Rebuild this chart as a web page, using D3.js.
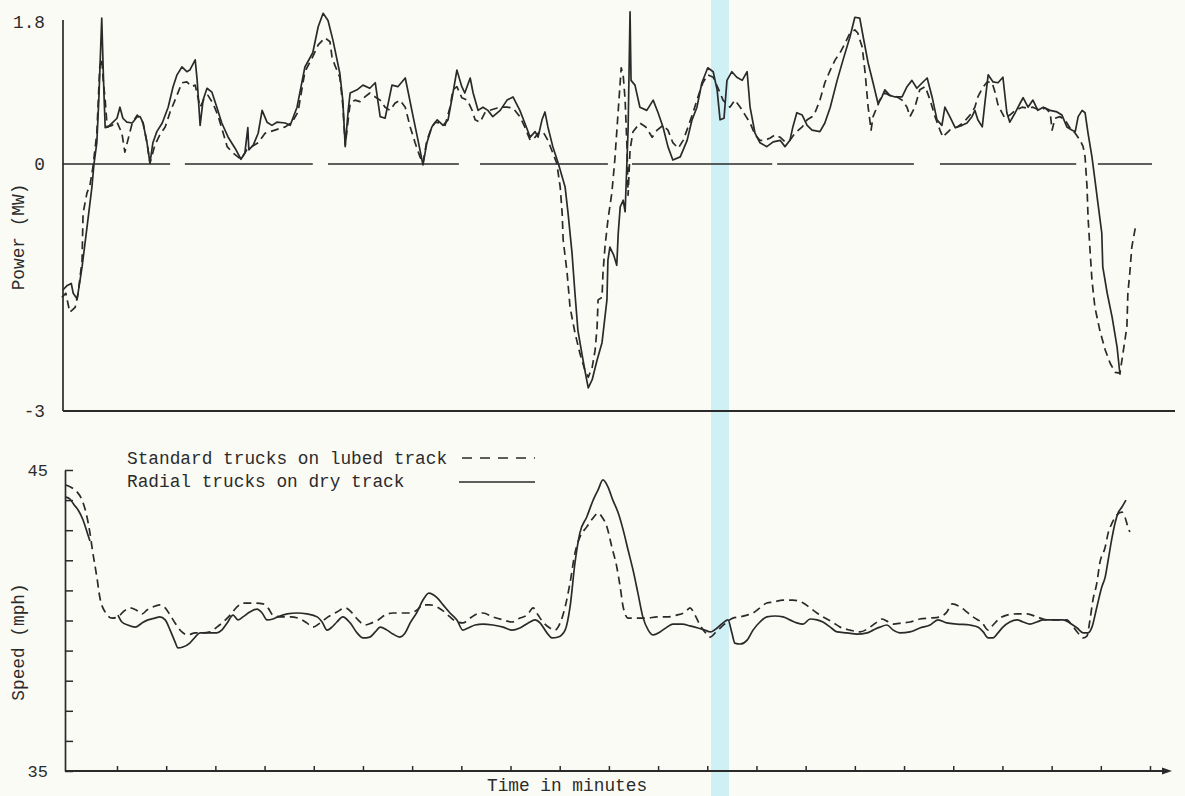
<!DOCTYPE html>
<html>
<head>
<meta charset="utf-8">
<script src="https://cdn.jsdelivr.net/npm/d3@7"></script>
<style>
  html, body { margin: 0; padding: 0; background: #fbfbf6; }
  svg { display: block; }
  text { font-family: "Liberation Mono", "DejaVu Sans Mono", monospace; fill: #2b2b2b; }
</style>
</head>
<body>
<svg id="chart" width="1185" height="796"></svg>
<script>
// ---- Values: [time in minutes, value] ----

// Power (MW), radial trucks on dry track
const powerRadial = [
  [-0.10,-1.53],[-0.02,-1.48],[0.07,-1.45],[0.11,-1.57],[0.19,-1.64],[0.29,-1.25],[0.39,-0.77],[0.49,-0.28],
  [0.53,-0.01],[0.59,0.27],[0.63,0.81],[0.69,1.85],[0.72,1.19],[0.74,0.81],[0.76,0.46],[0.82,0.47],[0.92,0.53],
  [1.00,0.58],[1.06,0.72],[1.12,0.58],[1.20,0.53],[1.31,0.52],[1.41,0.60],[1.47,0.60],[1.53,0.52],[1.61,0.27],
  [1.67,0.01],[1.73,0.27],[1.81,0.41],[1.92,0.52],[2.04,0.72],[2.14,0.98],[2.22,1.13],[2.32,1.23],[2.42,1.17],
  [2.48,1.19],[2.59,1.32],[2.63,1.06],[2.69,0.49],[2.75,0.81],[2.83,0.96],[2.93,0.91],[3.03,0.72],[3.13,0.52],
  [3.26,0.34],[3.40,0.20],[3.52,0.06],[3.60,0.14],[3.66,0.46],[3.68,0.18],[3.77,0.24],[3.87,0.39],[3.95,0.68],
  [4.05,0.53],[4.15,0.49],[4.25,0.53],[4.42,0.52],[4.52,0.49],[4.66,0.72],[4.82,1.23],[4.98,1.41],[5.09,1.74],
  [5.19,1.91],[5.29,1.82],[5.39,1.57],[5.53,1.15],[5.59,0.81],[5.64,0.22],[5.70,0.68],[5.74,0.90],[5.88,0.94],
  [6.00,1.00],[6.14,0.96],[6.25,1.03],[6.35,0.60],[6.45,0.58],[6.59,1.00],[6.71,0.98],[6.86,1.09],[6.92,0.91],
  [7.02,0.60],[7.12,0.30],[7.22,-0.01],[7.30,0.27],[7.40,0.47],[7.51,0.56],[7.63,0.49],[7.73,0.56],[7.83,0.90],
  [7.91,1.19],[8.01,0.98],[8.07,0.90],[8.18,1.09],[8.24,0.90],[8.34,0.68],[8.44,0.72],[8.54,0.68],[8.64,0.60],
  [8.79,0.68],[8.93,0.81],[9.05,0.85],[9.19,0.68],[9.29,0.52],[9.40,0.34],[9.50,0.41],[9.56,0.34],[9.64,0.56],
  [9.70,0.66],[9.76,0.47],[9.86,0.22],[9.97,0.01],[10.11,-0.28],[10.17,-0.60],[10.25,-1.08],[10.31,-1.57],
  [10.37,-2.02],[10.45,-2.30],[10.51,-2.50],[10.58,-2.72],[10.66,-2.62],[10.76,-2.38],[10.86,-2.17],[10.96,-1.65],
  [10.98,-1.17],[11.02,-1.01],[11.10,-1.11],[11.16,-1.23],[11.19,-0.84],[11.23,-0.52],[11.29,-0.44],[11.33,-0.58],
  [11.39,0.43],[11.43,1.93],[11.45,1.06],[11.53,1.00],[11.63,0.72],[11.77,0.68],[11.90,0.81],[12.00,0.65],
  [12.10,0.47],[12.20,0.22],[12.30,0.05],[12.45,0.09],[12.59,0.30],[12.69,0.56],[12.79,0.72],[12.89,1.03],
  [13.01,1.22],[13.12,1.17],[13.20,0.94],[13.26,0.56],[13.34,0.58],[13.40,1.06],[13.50,1.17],[13.60,1.10],
  [13.71,1.06],[13.81,1.17],[13.87,0.72],[13.97,0.39],[14.07,0.27],[14.21,0.22],[14.34,0.28],[14.48,0.30],
  [14.58,0.22],[14.68,0.30],[14.74,0.47],[14.82,0.65],[14.93,0.62],[15.03,0.49],[15.13,0.43],[15.29,0.41],
  [15.39,0.52],[15.50,0.72],[15.64,1.06],[15.76,1.32],[15.90,1.61],[16.00,1.86],[16.10,1.85],[16.17,1.61],
  [16.27,1.28],[16.37,1.03],[16.47,0.77],[16.55,0.85],[16.61,0.94],[16.71,0.87],[16.82,0.85],[16.96,0.85],
  [17.06,0.98],[17.16,1.06],[17.26,0.96],[17.37,1.03],[17.47,1.09],[17.57,0.85],[17.67,0.56],[17.77,0.49],
  [17.83,0.72],[17.93,0.60],[18.04,0.46],[18.18,0.49],[18.28,0.52],[18.38,0.60],[18.44,0.68],[18.50,0.56],
  [18.59,0.47],[18.65,0.81],[18.71,1.13],[18.81,1.04],[18.91,1.03],[19.01,1.10],[19.09,0.65],[19.15,0.53],
  [19.26,0.65],[19.36,0.77],[19.42,0.84],[19.52,0.72],[19.62,0.81],[19.72,0.68],[19.83,0.72],[19.97,0.68],
  [20.11,0.66],[20.21,0.62],[20.31,0.47],[20.41,0.43],[20.48,0.41],[20.54,0.60],[20.62,0.68],[20.68,0.65],
  [20.74,0.39],[20.82,0.09],[20.88,-0.19],[20.94,-0.47],[21.02,-0.84],[21.04,-1.25],[21.13,-1.57],[21.23,-1.86],
  [21.33,-2.22],[21.39,-2.56]
];

// Power (MW), standard trucks on lubed track
const powerStandard = [
  [-0.12,-1.62],[-0.04,-1.57],[0.04,-1.80],[0.15,-1.74],[0.21,-1.57],[0.29,-1.17],[0.31,-0.60],[0.39,-0.35],
  [0.45,-0.26],[0.51,-0.04],[0.59,0.39],[0.65,1.23],[0.69,1.34],[0.72,1.06],[0.76,0.81],[0.80,0.47],[0.90,0.49],
  [1.00,0.53],[1.10,0.39],[1.16,0.15],[1.22,0.30],[1.31,0.52],[1.41,0.62],[1.47,0.58],[1.53,0.52],[1.61,0.27],
  [1.67,0.01],[1.77,0.24],[1.87,0.37],[1.98,0.47],[2.08,0.66],[2.18,0.81],[2.32,1.03],[2.42,1.04],[2.52,0.98],
  [2.59,1.00],[2.69,0.72],[2.79,0.85],[2.85,0.87],[2.95,0.77],[3.05,0.62],[3.16,0.39],[3.24,0.22],[3.34,0.15],
  [3.52,0.06],[3.64,0.18],[3.74,0.22],[3.87,0.27],[4.01,0.39],[4.21,0.43],[4.42,0.47],[4.56,0.53],[4.68,0.66],
  [4.82,1.17],[4.98,1.36],[5.09,1.51],[5.23,1.60],[5.33,1.55],[5.37,1.36],[5.43,1.25],[5.53,1.10],[5.59,0.75],
  [5.64,0.24],[5.74,0.77],[5.84,0.81],[5.94,0.79],[6.04,0.85],[6.14,0.90],[6.25,0.85],[6.35,0.81],[6.45,0.72],
  [6.55,0.68],[6.65,0.77],[6.75,0.81],[6.86,0.72],[6.96,0.47],[7.06,0.27],[7.16,0.09],[7.22,0.01],[7.30,0.30],
  [7.40,0.47],[7.47,0.53],[7.57,0.52],[7.67,0.49],[7.77,0.72],[7.83,0.94],[7.91,0.98],[8.01,0.84],[8.12,0.81],
  [8.22,0.68],[8.28,0.56],[8.38,0.53],[8.48,0.65],[8.58,0.68],[8.73,0.71],[8.85,0.72],[8.93,0.72],[9.05,0.71],
  [9.19,0.60],[9.29,0.47],[9.40,0.30],[9.50,0.34],[9.56,0.39],[9.66,0.41],[9.76,0.30],[9.86,0.14],[9.94,0.01],
  [10.01,-0.28],[10.05,-0.60],[10.07,-0.92],[10.15,-1.32],[10.21,-1.74],[10.31,-2.05],[10.41,-2.30],[10.51,-2.50],
  [10.58,-2.59],[10.66,-2.47],[10.72,-2.26],[10.76,-1.98],[10.78,-1.65],[10.86,-1.62],[10.88,-1.32],[10.92,-1.01],
  [10.98,-0.68],[11.06,-0.35],[11.12,0.05],[11.19,0.68],[11.25,1.22],[11.29,1.13],[11.33,0.81],[11.37,0.18],
  [11.39,-0.38],[11.43,0.18],[11.49,0.41],[11.63,0.52],[11.75,0.47],[11.88,0.34],[11.98,0.43],[12.10,0.49],
  [12.20,0.43],[12.30,0.27],[12.41,0.20],[12.51,0.30],[12.61,0.47],[12.71,0.65],[12.81,0.85],[12.91,1.03],
  [13.01,1.13],[13.12,1.10],[13.22,0.96],[13.32,0.81],[13.46,0.72],[13.56,0.81],[13.67,0.72],[13.77,0.62],
  [13.87,0.52],[13.97,0.37],[14.07,0.30],[14.17,0.30],[14.28,0.33],[14.38,0.37],[14.48,0.34],[14.58,0.28],
  [14.68,0.30],[14.78,0.39],[14.93,0.47],[15.03,0.56],[15.13,0.60],[15.19,0.65],[15.29,0.81],[15.39,1.03],
  [15.50,1.19],[15.60,1.32],[15.70,1.41],[15.80,1.53],[15.90,1.66],[16.00,1.70],[16.06,1.66],[16.15,1.48],
  [16.21,1.15],[16.27,0.72],[16.33,0.43],[16.37,0.60],[16.45,0.72],[16.51,0.81],[16.61,0.90],[16.71,0.87],
  [16.86,0.85],[16.96,0.81],[17.06,0.72],[17.12,0.60],[17.22,0.72],[17.32,0.94],[17.43,0.98],[17.53,0.81],
  [17.63,0.60],[17.73,0.43],[17.79,0.34],[17.83,0.37],[17.93,0.43],[18.08,0.47],[18.20,0.52],[18.34,0.62],
  [18.44,0.72],[18.50,0.85],[18.59,0.96],[18.69,1.04],[18.79,1.03],[18.85,0.91],[18.91,0.75],[18.99,0.65],
  [19.05,0.58],[19.15,0.62],[19.26,0.68],[19.40,0.72],[19.50,0.71],[19.62,0.72],[19.76,0.68],[19.87,0.71],
  [19.97,0.65],[20.01,0.43],[20.07,0.58],[20.17,0.60],[20.27,0.56],[20.37,0.46],[20.48,0.39],[20.58,0.30],
  [20.64,0.22],[20.68,0.09],[20.72,-0.28],[20.74,-0.64],[20.78,-1.04],[20.82,-1.41],[20.88,-1.74],[20.98,-2.02],
  [21.09,-2.26],[21.19,-2.42],[21.29,-2.53],[21.39,-2.54],[21.45,-2.30],[21.53,-1.98],[21.55,-1.57],[21.59,-1.32],
  [21.63,-1.01],[21.70,-0.78]
];

// Speed (mph), radial trucks on dry track (null = trace interrupted)
const speedRadial = [
  [-0.04,44.10],[0.04,44.04],[0.13,43.84],[0.21,43.67],[0.31,43.34],[0.41,42.84],[0.45,42.64],[0.70,null],
  [1.02,40.18],[1.10,39.95],[1.22,39.85],[1.37,39.78],[1.51,39.92],[1.63,40.02],[1.77,40.08],[1.87,40.12],
  [1.98,40.02],[2.08,39.68],[2.18,39.29],[2.24,39.09],[2.34,39.12],[2.48,39.25],[2.59,39.45],[2.69,39.59],
  [2.83,39.59],[3.03,39.59],[3.13,39.68],[3.24,39.92],[3.36,40.18],[3.46,40.02],[3.56,40.12],[3.70,40.28],
  [3.85,40.38],[3.95,40.25],[4.05,40.02],[4.17,40.05],[4.27,40.12],[4.46,40.22],[4.66,40.25],[4.86,40.22],
  [5.07,40.12],[5.17,39.95],[5.27,39.68],[5.37,39.78],[5.47,39.95],[5.59,40.12],[5.74,39.92],[5.88,39.59],
  [6.00,39.42],[6.14,39.45],[6.25,39.62],[6.35,39.78],[6.49,39.68],[6.61,39.55],[6.75,39.45],[6.86,39.59],
  [6.96,39.92],[7.10,40.28],[7.22,40.68],[7.34,40.91],[7.51,40.75],[7.63,40.52],[7.77,40.25],[7.91,40.02],
  [8.03,39.68],[8.14,39.75],[8.28,39.85],[8.44,39.88],[8.64,39.85],[8.85,39.78],[9.03,39.68],[9.19,39.75],
  [9.36,39.92],[9.50,40.02],[9.60,39.92],[9.74,39.59],[9.84,39.42],[9.97,39.45],[10.11,39.68],[10.21,40.45],
  [10.31,41.91],[10.41,42.91],[10.55,43.44],[10.68,44.00],[10.78,44.34],[10.88,44.67],[10.98,44.44],[11.08,44.00],
  [11.19,43.57],[11.29,43.01],[11.39,42.34],[11.49,41.68],[11.59,40.91],[11.69,40.12],[11.80,39.68],[11.90,39.52],
  [12.04,39.62],[12.18,39.78],[12.30,39.88],[12.49,39.88],[12.65,39.82],[12.81,39.75],[12.95,39.68],[13.06,39.62],
  [13.20,39.75],[13.32,39.92],[13.42,40.02],[13.50,39.59],[13.56,39.25],[13.67,39.22],[13.81,39.35],[13.93,39.68],
  [14.07,39.95],[14.21,40.12],[14.38,40.15],[14.54,40.12],[14.68,40.02],[14.82,39.92],[14.95,39.88],[15.09,40.05],
  [15.23,40.02],[15.35,39.95],[15.50,39.78],[15.64,39.62],[15.84,39.59],[16.04,39.55],[16.25,39.59],[16.37,39.68],
  [16.51,39.78],[16.65,39.85],[16.78,39.68],[16.92,39.59],[17.12,39.62],[17.32,39.75],[17.53,39.85],[17.69,40.02],
  [17.87,39.92],[18.08,39.88],[18.34,39.85],[18.50,39.78],[18.61,39.62],[18.71,39.42],[18.81,39.42],[18.91,39.59],
  [19.01,39.78],[19.15,39.95],[19.30,40.02],[19.42,39.95],[19.56,39.88],[19.70,39.95],[19.83,40.02],[20.03,40.02],
  [20.23,40.02],[20.37,39.92],[20.52,39.75],[20.64,39.59],[20.74,39.59],[20.82,39.78],[20.92,40.45],[21.02,41.11],
  [21.09,41.45],[21.15,42.01],[21.23,42.77],[21.29,43.24],[21.35,43.57],[21.43,43.77],[21.51,44.00]
];

// Speed (mph), standard trucks on lubed track
const speedStandard = [
  [-0.04,44.50],[0.09,44.40],[0.19,44.27],[0.29,44.00],[0.39,43.44],[0.45,42.91],[0.51,42.24],[0.59,41.45],
  [0.65,40.78],[0.76,40.28],[0.90,40.08],[1.02,40.12],[1.12,40.28],[1.26,40.42],[1.39,40.35],[1.51,40.22],
  [1.61,40.35],[1.73,40.45],[1.87,40.52],[1.98,40.42],[2.08,40.18],[2.18,39.92],[2.32,39.62],[2.44,39.52],
  [2.59,39.59],[2.75,39.59],[2.89,39.62],[3.03,39.78],[3.16,39.95],[3.30,40.18],[3.44,40.45],[3.56,40.58],
  [3.77,40.58],[3.97,40.55],[4.07,40.42],[4.17,40.18],[4.35,40.12],[4.52,40.12],[4.68,40.08],[4.86,39.92],
  [4.98,39.78],[5.13,39.92],[5.29,40.12],[5.47,40.28],[5.64,40.42],[5.78,40.25],[5.90,40.02],[6.04,39.85],
  [6.18,39.92],[6.31,40.02],[6.45,40.18],[6.61,40.25],[6.81,40.25],[6.96,40.25],[7.10,40.35],[7.22,40.52],
  [7.36,40.52],[7.51,40.45],[7.63,40.32],[7.77,40.12],[7.91,39.95],[8.03,39.92],[8.18,40.08],[8.32,40.22],
  [8.44,40.25],[8.64,40.12],[8.85,40.02],[9.03,39.95],[9.19,40.08],[9.34,40.18],[9.46,40.42],[9.56,40.18],
  [9.66,39.95],[9.80,39.75],[9.90,39.68],[10.01,39.92],[10.11,40.45],[10.21,41.25],[10.31,42.24],[10.41,42.77],
  [10.55,43.11],[10.68,43.41],[10.78,43.57],[10.86,43.44],[10.96,43.11],[11.06,42.44],[11.16,41.78],[11.23,41.11],
  [11.29,40.45],[11.39,40.08],[11.57,40.08],[11.77,40.08],[11.98,40.12],[12.18,40.12],[12.38,40.18],[12.55,40.28],
  [12.65,40.42],[12.75,40.18],[12.85,39.85],[12.95,39.62],[13.06,39.45],[13.16,39.59],[13.26,39.75],[13.40,39.95],
  [13.52,40.08],[13.67,40.12],[13.81,40.18],[13.93,40.25],[14.07,40.42],[14.21,40.58],[14.34,40.61],[14.54,40.68],
  [14.74,40.68],[14.95,40.58],[15.09,40.42],[15.23,40.25],[15.35,40.12],[15.54,39.95],[15.70,39.78],[15.90,39.68],
  [16.10,39.62],[16.31,39.78],[16.45,39.95],[16.55,40.05],[16.65,39.98],[16.78,39.88],[16.96,39.92],[17.12,39.95],
  [17.32,40.05],[17.53,40.08],[17.73,40.12],[17.87,40.28],[17.98,40.55],[18.14,40.45],[18.28,40.28],[18.40,40.12],
  [18.59,39.92],[18.71,39.68],[18.81,39.85],[18.95,40.08],[19.09,40.18],[19.30,40.22],[19.50,40.22],[19.70,40.12],
  [19.91,40.02],[20.11,40.02],[20.31,40.02],[20.41,39.85],[20.52,39.62],[20.64,39.42],[20.72,39.49],[20.78,40.02],
  [20.84,40.68],[20.92,41.25],[20.98,41.91],[21.09,42.44],[21.15,42.91],[21.23,43.24],[21.33,43.51],[21.43,43.60],
  [21.49,43.44],[21.55,43.11],[21.59,42.94]
];

// Stretches (minutes) along which the zero-power reference line is ruled
const zeroLineSpans = [[-0.10,2.08],[2.38,4.98],[5.29,7.95],[8.38,10.98],[11.47,14.32],[14.42,17.20],[17.73,20.50],[20.94,22.04]];

const timeTicks = [1,2,3,4,5,6,7,8,9,10,11,12,13,14,15,16,17,18,19,20,21,22];
const powerTicks = [-3, 0, 1.8];
const speedTicks = [35,36,37,38,39,40,41,42,43,44,45];
const speedTickLabels = [35, 45];

const seriesNames = ["Standard trucks on lubed track", "Radial trucks on dry track"];

// ---- Layout ----
const svg = d3.select("#chart");
const ink = "#2a2a2a";
const dash = "8,5";
const typeSize = 17.8;

const powerPanel = { left: 63, right: 1175, top: 20, bottom: 411 };
const speedPanel = { left: 65, right: 1172, top: 470, bottom: 771 };

const x = d3.scaleLinear().domain([0, 22]).range([67.8, 1150]);
// The power axis is ruled unevenly above and below zero
const yPower = d3.scaleLinear().domain([-3, 0, 1.8]).range([411, 164, 22]);
const ySpeed = d3.scaleLinear().domain([35, 45]).range([771, 470]);

// pale vertical stripe across the sheet
svg.append("rect")
  .attr("x", 711).attr("y", 0).attr("width", 18).attr("height", 796)
  .attr("fill", "#cff0f5");

// ---- Power panel ----
const gP = svg.append("g");

// zero line
gP.selectAll("line.zero").data(zeroLineSpans).join("line")
  .attr("class", "zero")
  .attr("x1", d => x(d[0])).attr("x2", d => x(d[1]))
  .attr("y1", yPower(0)).attr("y2", yPower(0))
  .attr("stroke", ink).attr("stroke-width", 1.4);

const yPAxis = gP.append("g")
  .attr("transform", `translate(${powerPanel.left},0)`)
  .call(d3.axisLeft(yPower).tickValues(powerTicks).tickSize(0).tickSizeOuter(0).tickPadding(18)
    .tickFormat(d => String(d)));
yPAxis.select(".domain").remove();
yPAxis.selectAll("text").attr("font-size", typeSize).attr("font-family", "Liberation Mono").attr("fill", ink);

gP.append("line")
  .attr("x1", powerPanel.left).attr("x2", powerPanel.left)
  .attr("y1", powerPanel.top).attr("y2", powerPanel.bottom)
  .attr("stroke", ink).attr("stroke-width", 1.7);
gP.append("line")
  .attr("x1", powerPanel.left).attr("x2", powerPanel.right)
  .attr("y1", powerPanel.bottom).attr("y2", powerPanel.bottom)
  .attr("stroke", ink).attr("stroke-width", 1.8);

gP.append("text")
  .attr("transform", `translate(24,237) rotate(-90)`)
  .attr("text-anchor", "middle")
  .attr("font-size", typeSize)
  .text("Power (MW)");

const powerLine = d3.line().x(d => x(d[0])).y(d => yPower(d[1]));

gP.append("path").datum(powerStandard)
  .attr("d", powerLine).attr("fill", "none")
  .attr("stroke", ink).attr("stroke-width", 1.7).attr("stroke-dasharray", dash)
  .attr("stroke-linejoin", "round");
gP.append("path").datum(powerRadial)
  .attr("d", powerLine).attr("fill", "none")
  .attr("stroke", ink).attr("stroke-width", 1.7)
  .attr("stroke-linejoin", "round");

// ---- Speed panel ----
const gS = svg.append("g");

const ySAxis = gS.append("g")
  .attr("transform", `translate(${speedPanel.left},0)`)
  .call(d3.axisLeft(ySpeed).tickValues(speedTicks).tickSizeInner(-8).tickSizeOuter(0).tickPadding(17)
    .tickFormat(d => speedTickLabels.includes(d) ? String(d) : ""));
ySAxis.select(".domain").attr("stroke", ink).attr("stroke-width", 1.7);
ySAxis.selectAll(".tick line").attr("stroke", ink).attr("stroke-width", 1.5);
ySAxis.selectAll("text").attr("font-size", 17).attr("font-family", "DejaVu Sans").attr("fill", ink);

const xSAxis = gS.append("g")
  .attr("transform", `translate(0,${speedPanel.bottom})`)
  .call(d3.axisBottom(x).tickValues(timeTicks).tickSizeInner(-5).tickSizeOuter(0).tickFormat(""));
xSAxis.select(".domain").remove();
xSAxis.selectAll(".tick line").attr("stroke", ink).attr("stroke-width", 1.5);

gS.append("line")
  .attr("x1", speedPanel.left).attr("x2", speedPanel.right - 6)
  .attr("y1", speedPanel.bottom).attr("y2", speedPanel.bottom)
  .attr("stroke", ink).attr("stroke-width", 1.8);
gS.append("path")
  .attr("d", `M${speedPanel.right},${speedPanel.bottom} l-10,-3.5 l0,7 z`)
  .attr("fill", ink);

gS.append("text")
  .attr("transform", `translate(24,642) rotate(-90)`)
  .attr("text-anchor", "middle")
  .attr("font-size", typeSize)
  .text("Speed (mph)");

gS.append("text")
  .attr("x", 487).attr("y", 791)
  .attr("font-size", typeSize)
  .text("Time in minutes");

const speedLine = d3.line()
  .defined(d => d[1] != null)
  .x(d => x(d[0])).y(d => ySpeed(d[1]))
  .curve(d3.curveMonotoneX);

gS.append("path").datum(speedStandard)
  .attr("d", speedLine).attr("fill", "none")
  .attr("stroke", ink).attr("stroke-width", 1.7).attr("stroke-dasharray", dash);
gS.append("path").datum(speedRadial)
  .attr("d", speedLine).attr("fill", "none")
  .attr("stroke", ink).attr("stroke-width", 1.7);

// ---- Legend ----
const legend = svg.append("g");
legend.selectAll("text").data(seriesNames).join("text")
  .attr("x", 127)
  .attr("y", (d, i) => 464 + i * 23)
  .attr("font-size", typeSize)
  .text(d => d);
legend.selectAll("line").data(seriesNames).join("line")
  .attr("x1", (d, i) => i === 0 ? 462 : 459).attr("x2", 535)
  .attr("y1", (d, i) => 458 + i * 24).attr("y2", (d, i) => 458 + i * 24)
  .attr("stroke", ink).attr("stroke-width", 1.6)
  .attr("stroke-dasharray", (d, i) => i === 0 ? "10,8" : null);
</script>
</body>
</html>
